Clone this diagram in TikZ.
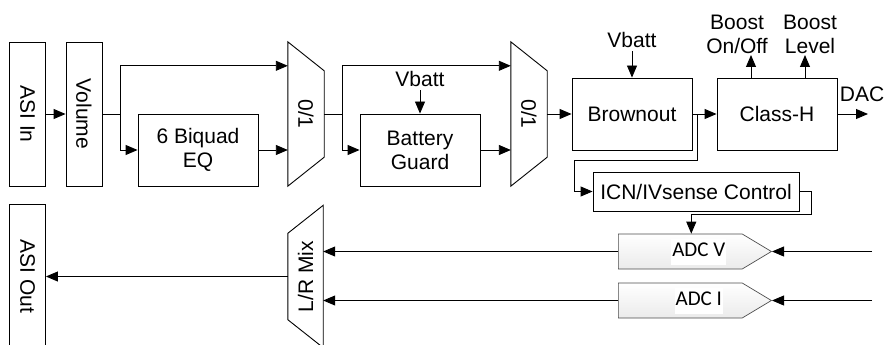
\documentclass[tikz,border=0pt]{standalone}
\usepackage{fontspec}
\usepackage{graphicx}
\setmainfont{Liberation Sans}
\newfontfamily\adcfont{Carlito}
\usetikzlibrary{positioning,arrows.meta,shapes.symbols}
\setlength{\fboxsep}{1pt}

\tikzset{
blk/.style={draw, line width=0.9pt, inner sep=0pt, align=center},
tall/.style={blk, minimum width=36pt, minimum height=144pt},
wide/.style={blk, minimum width=120pt, minimum height=72pt},
mux/.style={inner sep=0pt, minimum width=36pt, minimum height=144pt},
lbl/.style={inner sep=1pt, align=center},
adc/.style={signal, signal to=east, signal pointer angle=62, draw=black!70, line width=0.7pt,
  top color=white, bottom color=black!8, minimum width=153pt, minimum height=35pt,
  inner sep=0pt, anchor=west, font=\adcfont\fontsize{21}{24}\selectfont},
arr/.style={-{Triangle[length=12pt,width=10pt]}, line width=0.9pt}
}

\begin{document}
\begin{tikzpicture}[x=1pt, y=-1pt, font=\fontsize{21}{24}\selectfont]
\useasboundingbox (0,0) rectangle (884,345);

% playback path
\node[tall] (asiin) at (27.5,114) {\rotatebox{-90}{ASI In}};
\node[tall] (vol) at (84,114) {\rotatebox{-90}{Volume}};
\node[wide] (eq) at (198,150) {6 Biquad\\EQ};
\node[mux] (mux1) at (306,114) {\rotatebox{-90}{0/1}};
\node[wide] (bguard) at (420,150) {Battery\\Guard};
\node (vb1) at (420,79) {Vbatt};
\node[mux] (mux2) at (529,114) {\rotatebox{-90}{0/1}};
\node[wide] (brown) at (632,114) {Brownout};
\node (vb2) at (632,40) {Vbatt};
\node[wide] (classh) at (777,114) {Class-H};
\node[lbl, anchor=south] (boost1) at (737,55) {Boost\\On/Off};
\node[lbl, anchor=south] (boost2) at (810,55) {Boost\\Level};
\node (daclbl) at (862,94) {DAC};
\coordinate (dac) at (868,114);

\draw[line width=0.9pt] (mux1.north west) -- ([yshift=-29pt]mux1.north east)
  -- ([yshift=29pt]mux1.south east) -- (mux1.south west) -- cycle;
\draw[line width=0.9pt] (mux2.north west) -- ([yshift=-29pt]mux2.north east)
  -- ([yshift=29pt]mux2.south east) -- (mux2.south west) -- cycle;

% sense path
\node[blk, minimum width=206pt, minimum height=39pt] (icn) at (696,191.5) {ICN/IVsense Control};
\node[adc] (adcv) at (618,251.5) {\hspace*{37pt}\colorbox{white}{\strut ADC V}};
\node[adc] (adci) at (618,300.5) {\hspace*{37pt}\colorbox{white}{\strut ADC I}};
\coordinate (vin) at (872,251.5);
\coordinate (iin) at (872,300.5);
\node[mux, minimum width=35pt, minimum height=142pt] (lrmix) at (305.5,276.5) {\rotatebox{90}{L/R Mix}};
\node[tall] (asiout) at (27.5,276.5) {\rotatebox{-90}{ASI Out}};

\draw[line width=0.9pt] (lrmix.north east) -- (lrmix.south east)
  -- ([yshift=28pt]lrmix.south west) -- ([yshift=-28pt]lrmix.north west) -- cycle;

% connections
\draw[arr] (asiin) -- (vol);
\draw[arr] (vol.east) -- ++(18,0) |- ([yshift=-24pt]mux1.north west);
\draw[arr] (vol.east) -- ++(18,0) |- (eq.west);
\draw[arr] (eq) -- (mux1.west |- eq);
\draw[arr] (mux1.east) -- ++(18,0) |- ([yshift=-24pt]mux2.north west);
\draw[arr] (mux1.east) -- ++(18,0) |- (bguard.west);
\draw[arr] (bguard) -- (mux2.west |- bguard);
\draw[arr] (vb1) -- (bguard);
\draw[arr] (mux2) -- (brown);
\draw[arr] (vb2) -- (brown);
\draw[arr] (brown) -- (classh);
\draw[arr] ([xshift=5pt]brown.east) |- ([xshift=3pt,yshift=-10pt]brown.south west) |- (icn.west);
\draw[arr] ([xshift=-26pt]classh.north) -- ([xshift=14pt]boost1.south);
\draw[arr] ([xshift=28pt]classh.north) -- ([xshift=-5pt]boost2.south);
\draw[arr] (classh) -- (dac);

\draw[arr] (icn.east) -- ++(12,0) -- ++(0,23) -| ([xshift=11pt]adcv.north);
\draw[arr] (vin) -- (adcv.east);
\draw[arr] (iin) -- (adci.east);
\draw[arr] (adcv.west) -- (lrmix.east |- adcv.west);
\draw[arr] (adci.west) -- (lrmix.east |- adci.west);
\draw[arr] (lrmix) -- (asiout);
\end{tikzpicture}
\end{document}
